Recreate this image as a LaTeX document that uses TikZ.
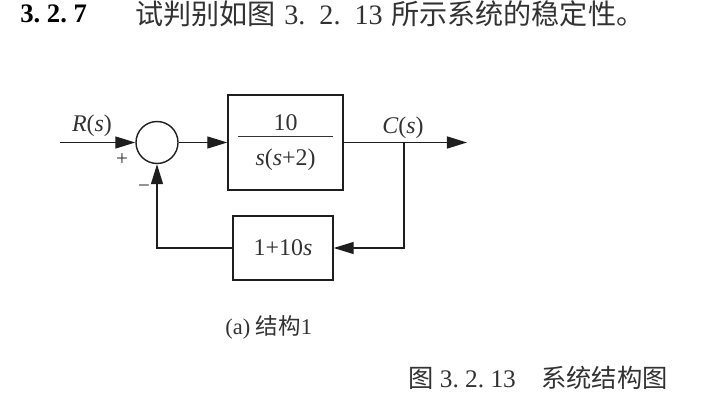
\documentclass[tikz,border=0pt]{standalone}
\usepackage{fontspec}
\setmainfont{Liberation Serif}
\newfontfamily\cjk{Noto Sans CJK SC}
\usetikzlibrary{arrows.meta}
\definecolor{inkgray}{RGB}{50,50,50}
\definecolor{linegray}{RGB}{30,30,30}

\begin{document}
\begin{tikzpicture}[x=0.025cm, y=-0.025cm,
    wire/.style={draw=linegray, line width=1pt},
    sig/.style={wire, -{Triangle[length=0.5cm, width=0.3cm]}},
    blockbox/.style={draw=linegray, line width=1pt, rectangle, inner sep=0pt, text=inkgray, font=\fontsize{17}{20}\selectfont},
    lbl/.style={text=inkgray, inner sep=0pt, font=\fontsize{17}{20}\selectfont}]
    \useasboundingbox (0,0) rectangle (704,407);

    % Title line
    \node[anchor=west, inner sep=0pt, font=\fontsize{19}{23}\selectfont\bfseries] (num) at (20,14) {3.\ 2.\ 7};
    \node[anchor=west, inner sep=0pt, text=inkgray, font=\fontsize{20}{24}\selectfont] (qtext) at (135,14) {{\cjk 试判别如图}\hspace{0.3em}3.\enspace 2.\enspace 13\hspace{0.3em}{\cjk 所示系统的稳定性。}};

    % Blocks
    \node[circle, draw=linegray, line width=1pt, minimum size=1.05cm, inner sep=0pt] (sum) at (157,142.5) {};
    \node[blockbox, minimum width=2.875cm, minimum height=2.375cm] (G) at (285.5,142.5) {
        \begin{tabular}{@{}c@{}}
        10\\[-7.5pt]
        \rule[8pt]{2.35cm}{0.6pt}\\[-7.5pt]
        \textit{s}(\textit{s}+2)
        \end{tabular}
    };
    \node[blockbox, minimum width=2.5cm, minimum height=1.6cm] (H) at (283,248) {1+10\textit{s}};

    \coordinate (in) at (60,142.5);
    \coordinate (br) at (404,142.5);
    \coordinate (out) at (467,142.5);

    % Signals
    \draw[sig] (in) -- (sum);
    \draw[sig] (sum) -- (G);
    \draw[sig] (G) -- (out);
    \draw[sig] (br) |- (H);
    \draw[sig] (H) -| (sum);

    % Labels
    \node[lbl] (rlab) at (92,126) {\textit{R}(\textit{s})};
    \node[lbl] (clab) at (403,128) {\textit{C}(\textit{s})};
    \node[lbl, font=\fontsize{15}{18}\selectfont] (plus) at (122,160) {+};
    \node[lbl, font=\fontsize{15}{18}\selectfont] (minus) at (144,189) {−};

    % Captions
    \node[anchor=west, inner sep=0pt, text=inkgray, font=\fontsize{16}{19}\selectfont] (subcap) at (225,327) {(a) {\cjk 结构}1};
    \node[anchor=west, inner sep=0pt, text=inkgray, font=\fontsize{18}{22}\selectfont] (figcap) at (408,378) {{\cjk 图}\ 3.\ 2.\ 13\quad{\cjk 系统结构图}};
\end{tikzpicture}
\end{document}
